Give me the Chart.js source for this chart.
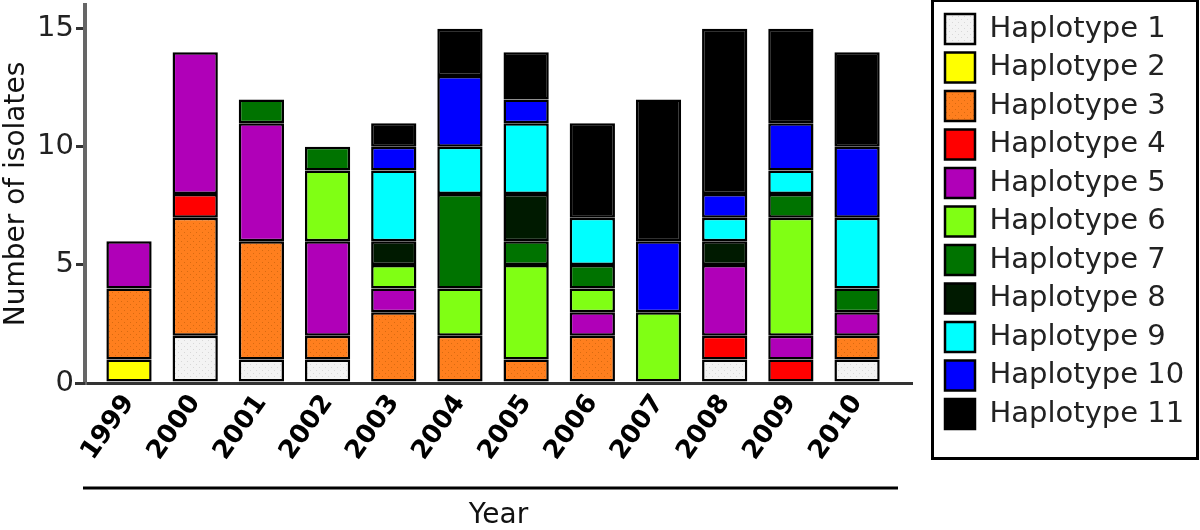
<!DOCTYPE html>
<html>
<head>
<meta charset="utf-8">
<script src="https://cdn.jsdelivr.net/npm/chart.js@4/dist/chart.umd.min.js"></script>
<style>
  html, body { margin: 0; padding: 0; background: #fff; }
  #wrap { width: 1200px; height: 530px; }
</style>
</head>
<body>
<div id="wrap"><canvas id="haploChart" width="1200" height="530"></canvas></div>
<script>
const years = ["1999", "2000", "2001", "2002", "2003", "2004", "2005", "2006", "2007", "2008", "2009", "2010"];
const haplotypes = ["Haplotype 1", "Haplotype 2", "Haplotype 3", "Haplotype 4", "Haplotype 5", "Haplotype 6",
  "Haplotype 7", "Haplotype 8", "Haplotype 9", "Haplotype 10", "Haplotype 11"];
const h1 = [0, 2, 1, 1, 0, 0, 0, 0, 0, 1, 0, 1];
const h2 = [1, 0, 0, 0, 0, 0, 0, 0, 0, 0, 0, 0];
const h3 = [3, 5, 5, 1, 3, 2, 1, 2, 0, 0, 0, 1];
const h4 = [0, 1, 0, 0, 0, 0, 0, 0, 0, 1, 1, 0];
const h5 = [2, 6, 5, 4, 1, 0, 0, 1, 0, 3, 1, 1];
const h6 = [0, 0, 0, 3, 1, 2, 4, 1, 3, 0, 5, 0];
const h7 = [0, 0, 1, 1, 0, 4, 1, 1, 0, 0, 1, 1];
const h8 = [0, 0, 0, 0, 1, 0, 2, 0, 0, 1, 0, 0];
const h9 = [0, 0, 0, 0, 3, 2, 3, 2, 0, 1, 1, 3];
const h10 = [0, 0, 0, 0, 1, 3, 1, 0, 3, 1, 2, 3];
const h11 = [0, 0, 0, 0, 1, 2, 2, 4, 6, 7, 4, 4];
const yTicks = [0, 5, 10, 15];

const FONT = "'DejaVu Sans', 'Liberation Sans', Arial, sans-serif";

// little dotted fill like the original artwork
const probe = document.createElement("canvas").getContext("2d");
function pattern(bg, dot) {
  const c = document.createElement("canvas");
  c.width = 6; c.height = 6;
  const g = c.getContext("2d");
  g.fillStyle = bg; g.fillRect(0, 0, 6, 6);
  g.fillStyle = dot; g.fillRect(1, 1, 1, 1); g.fillRect(4, 4, 1, 1);
  return probe.createPattern(c, "repeat");
}

const series = [h1, h2, h3, h4, h5, h6, h7, h8, h9, h10, h11];
const fills = [
  pattern("#f3f3f3", "#d8d8d8"),
  "#ffff00",
  pattern("#ff7f1e", "#d86a10"),
  "#ff0000",
  "#b000b8",
  "#80ff14",
  "#007300",
  "#001a00",
  "#00ffff",
  "#0000ff",
  "#000000"
];

// x is a linear index axis so the bars can sit inset from the axis ends
const datasets = series.map((vals, i) => ({
  label: haplotypes[i],
  data: vals.map((v, j) => ({ x: j, y: v === 0 ? null : v })),
  backgroundColor: fills[i],
  borderColor: "#000",
  borderWidth: 2.5,
  borderSkipped: false,
  barPercentage: 0.72,
  categoryPercentage: 0.95
}));

const frameBits = {
  id: "frameBits",
  beforeUpdate(chart) {
    const lg = chart.legend;
    if (lg && !lg._wide) {
      const fit = lg.fit;
      lg.fit = function () { fit.call(this); this.width = 288; };
      lg._wide = true;
    }
  },
  afterLayout(chart) {
    const lg = chart.legend;
    const pad = lg.options.labels.padding;
    lg.left = 945 - pad;
    lg.right = 1198;
    lg.top = 14 - pad;
  },
  afterDraw(chart) {
    const ctx = chart.ctx;
    const x = chart.scales.x;
    ctx.save();
    ctx.strokeStyle = "#000";
    ctx.lineWidth = 3;
    // box round the legend
    ctx.strokeRect(932.5, 0.5, 265, 458);
    // rule between year labels and axis title
    ctx.beginPath();
    ctx.moveTo(83, 488);
    ctx.lineTo(898, 488);
    ctx.stroke();
    // short stub of the x axis left of the y axis
    ctx.strokeStyle = "#333";
    ctx.beginPath();
    ctx.moveTo(chart.chartArea.left - 10, x.top + 0.5);
    ctx.lineTo(chart.chartArea.left, x.top + 0.5);
    ctx.stroke();
    ctx.restore();
  }
};

const ctx = document.getElementById("haploChart").getContext("2d");
const myChart = new Chart(ctx, {
  type: "bar",
  data: { datasets },
  plugins: [frameBits],
  options: {
    responsive: false,
    animation: false,
    layout: { padding: { left: 0, right: 0, top: 5, bottom: 0 } },
    plugins: {
      tooltip: { enabled: false },
      legend: {
        display: true,
        position: "right",
        align: "start",
        labels: {
          boxWidth: 30,
          boxHeight: 30,
          padding: 8.5,
          color: "#222",
          font: { family: FONT, size: 29 }
        }
      }
    },
    scales: {
      x: {
        type: "linear",
        stacked: true,
        offset: false,
        min: -0.665,
        max: 11.83,
        afterBuildTicks(scale) { scale.ticks = years.map((y, i) => ({ value: i })); },
        grid: { display: false, drawTicks: false },
        border: { color: "#333", width: 3 },
        ticks: {
          color: "#000",
          minRotation: 55,
          maxRotation: 55,
          padding: 6,
          autoSkip: false,
          callback: (v) => years[v],
          font: { family: FONT, size: 26, weight: "bold" }
        },
        title: {
          display: true,
          text: "Year",
          color: "#111",
          padding: { top: 20, bottom: 0 },
          font: { family: FONT, size: 28, lineHeight: 1 }
        },
        afterFit(scale) {
          scale.height = 147;
          scale.paddingLeft = 0;
          scale.paddingRight = 0;
        }
      },
      y: {
        stacked: true,
        min: 0,
        max: 16,
        afterBuildTicks(scale) { scale.ticks = yTicks.map(v => ({ value: v })); },
        grid: { drawOnChartArea: false, drawTicks: true, tickLength: 9, color: "#333", lineWidth: 3 },
        border: { color: "#666", width: 4 },
        ticks: {
          color: "#222",
          padding: 2,
          font: { family: FONT, size: 29 }
        },
        title: {
          display: true,
          text: "Number of isolates",
          color: "#111",
          padding: { top: 0, bottom: 4 },
          font: { family: FONT, size: 28 }
        },
        afterFit(scale) {
          scale.width = 85;
          scale.paddingTop = 0;
          scale.paddingBottom = 0;
        }
      }
    }
  }
});
</script>
</body>
</html>
